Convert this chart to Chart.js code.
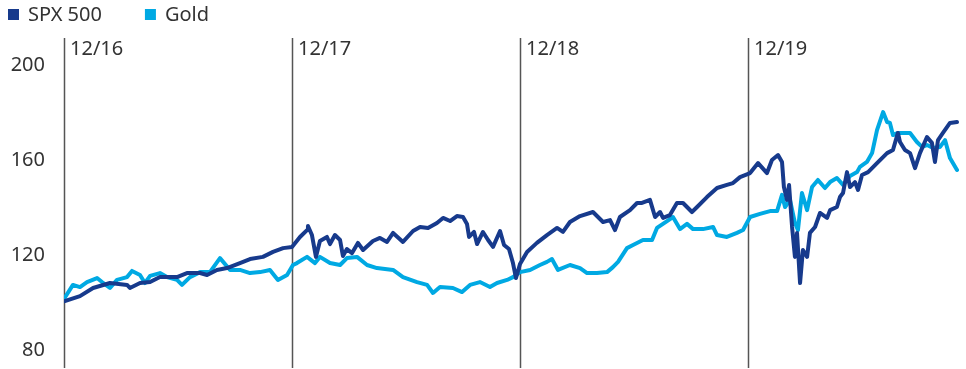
<!DOCTYPE html>
<html>
<head>
<meta charset="utf-8">
<script src="https://cdn.jsdelivr.net/npm/chart.js@4/dist/chart.umd.min.js"></script>
<style>
  html, body { margin: 0; padding: 0; background: #ffffff; }
  #wrap { width: 966px; height: 369px; position: relative; }
  canvas { display: block; }
</style>
</head>
<body>
<div id="wrap"><canvas id="c" width="966" height="369" style="width:966px;height:369px"></canvas></div>
<script>
// Months elapsed since 12/16 (x position) and index values (base 100)
const seriesNames = ['SPX 500', 'Gold'];
const spxMonths = [0,0.84,1.53,2.42,3.32,3.47,4.0,4.53,5.05,5.95,6.47,7.16,7.53,8.05,8.58,9.26,9.79,10.47,11.0,11.53,12.0,12.42,12.79,12.84,13.05,13.26,13.47,13.84,14.0,14.26,14.53,14.68,14.89,15.16,15.47,15.74,16.26,16.63,17.0,17.32,17.84,18.37,18.74,19.16,19.63,19.95,20.32,20.68,21.0,21.21,21.32,21.58,21.74,22.05,22.32,22.58,22.95,23.16,23.42,23.63,23.79,24.0,24.37,24.89,25.42,25.95,26.26,26.63,27.16,27.84,28.37,28.74,29.0,29.26,29.79,30.16,30.42,30.84,31.11,31.37,31.53,31.89,32.26,32.58,33.05,33.32,33.84,34.37,34.89,35.21,35.58,36.11,36.53,37.0,37.26,37.58,37.79,37.89,38.05,38.16,38.32,38.47,38.58,38.74,38.89,39.11,39.26,39.53,39.79,40.16,40.32,40.68,40.84,41.0,41.21,41.37,41.63,41.79,42.0,42.32,42.79,43.32,43.63,43.89,44.0,44.26,44.53,44.79,45.05,45.42,45.68,45.84,46.0,46.26,46.63,47.0];
const spxValues = [100.5,102.7,106.1,108.2,107.4,106.1,108.2,108.6,110.7,110.7,112.4,112.4,111.6,113.7,114.5,116.6,118.3,119.2,121.3,122.9,123.4,127.6,130.5,132.2,128.4,119.2,125.9,127.6,124.6,128.4,126.3,119.6,122.5,120.8,125.1,122.1,125.9,127.2,125.5,129.3,125.5,130.1,131.8,131.4,133.5,135.6,134.3,136.4,136.0,133.1,127.6,129.7,124.6,129.7,126.3,123.4,130.1,124.2,122.5,116.6,110.3,116.2,121.3,125.1,128.4,131.4,129.7,133.9,136.4,138.1,133.9,134.7,130.5,136.0,138.9,141.9,141.9,143.2,136.0,138.1,135.6,136.8,141.9,141.9,138.1,140.2,144.4,148.2,149.5,150.3,152.8,154.5,158.7,154.5,160.0,162.1,159.2,148.6,143.2,149.5,131.8,119.2,129.3,108.2,122.1,119.2,129.3,131.8,137.7,135.6,138.9,140.2,144.4,146.1,154.9,148.6,150.7,147.4,153.7,154.9,158.7,162.9,164.2,171.4,167.6,164.2,162.9,156.6,162.9,169.7,167.2,159.2,168.4,171.4,175.6,176.0];
const goldMonths = [0,0.47,0.84,1.21,1.74,2.0,2.42,2.79,3.32,3.58,4.0,4.26,4.53,5.05,5.42,5.95,6.21,6.63,7.16,7.68,8.21,8.74,9.26,9.79,10.32,10.84,11.26,11.74,12.05,12.26,12.79,13.21,13.47,14.0,14.53,14.89,15.42,15.95,16.47,17.32,17.84,18.58,19.11,19.42,19.79,20.47,20.95,21.37,21.89,22.42,22.79,23.32,23.63,24.0,24.53,25.05,25.42,25.68,26.0,26.63,27.16,27.53,28.05,28.58,28.89,29.16,29.63,29.95,30.47,30.95,31.21,31.74,32.05,32.42,32.79,33.11,33.63,34.16,34.37,34.89,35.42,35.74,36.11,36.63,37.16,37.53,37.79,37.95,38.21,38.47,38.63,38.84,39.11,39.37,39.68,40.05,40.32,40.68,41.0,41.37,41.74,41.89,42.26,42.53,42.79,43.11,43.32,43.47,43.63,43.89,44.16,44.53,44.89,45.16,45.42,45.74,46.11,46.37,46.63,47.0];
const goldValues = [101.5,107.4,106.5,108.6,110.3,108.6,106.1,109.5,110.7,113.3,111.6,108.2,111.2,112.4,110.7,109.5,107.4,110.7,112.8,112.8,118.7,113.7,113.7,112.4,112.8,113.7,109.5,111.6,115.8,116.6,119.2,116.6,119.2,116.6,115.8,118.7,119.2,115.8,114.5,113.7,110.7,108.6,107.4,104.0,106.5,106.1,104.4,107.4,108.6,106.5,108.2,109.5,110.7,112.8,113.7,115.8,117.1,118.3,113.7,115.8,114.5,112.4,112.4,112.8,114.9,117.1,122.9,124.2,126.3,126.3,131.4,134.3,136.0,130.9,133.1,130.9,130.9,131.8,128.4,127.6,129.3,130.5,136.0,137.3,138.5,138.5,145.3,140.2,143.2,133.5,130.5,146.1,138.9,148.6,151.6,148.2,150.7,152.4,149.5,153.3,154.9,157.1,159.2,162.9,172.6,180.2,176.0,175.6,170.5,171.4,171.4,171.4,167.6,165.5,166.3,165.1,165.5,168.4,160.8,155.8];
const xTickMonths = [0, 12, 24, 36];
const xTickLabels = ['12/16', '12/17', '12/18', '12/19'];
const yTickValues = [80, 120, 160, 200];

const colors = ['#173a8c', '#00a9e3'];
const FONT = 'Noto Sans, DejaVu Sans, sans-serif';

const overlayPlugin = {
  id: 'overlay',
  beforeDatasetsDraw(chart) {
    const ctx = chart.ctx;
    const xs = chart.scales.x;
    const area = chart.chartArea;
    ctx.save();
    ctx.strokeStyle = '#555555';
    ctx.lineWidth = 1.5;
    xTickMonths.forEach((m) => {
      const px = Math.round(xs.getPixelForValue(m)) + 0.5;
      ctx.beginPath();
      ctx.moveTo(px, area.top);
      ctx.lineTo(px, area.bottom);
      ctx.stroke();
    });
    ctx.restore();
  },
  afterDraw(chart) {
    const ctx = chart.ctx;
    const xs = chart.scales.x;
    const area = chart.chartArea;
    ctx.save();
    ctx.font = '20px ' + FONT;
    ctx.fillStyle = '#333333';
    ctx.textAlign = 'left';
    ctx.textBaseline = 'top';
    xTickMonths.forEach((m, i) => {
      ctx.fillText(xTickLabels[i], xs.getPixelForValue(m) + 6, area.top + 1);
    });
    // legend
    let x = 8;
    chart.data.datasets.forEach((ds) => {
      ctx.fillStyle = ds.borderColor;
      ctx.fillRect(x, 9, 11, 11);
      ctx.fillStyle = '#333333';
      ctx.textBaseline = 'middle';
      ctx.fillText(ds.label, x + 20, 15);
      x += 20 + ctx.measureText(ds.label).width + 43;
    });
    ctx.restore();
  }
};

new Chart(document.getElementById('c'), {
  type: 'line',
  data: {
    datasets: [
      { label: seriesNames[0], data: spxMonths.map((m, i) => ({ x: m, y: spxValues[i] })), borderColor: colors[0], backgroundColor: colors[0] },
      { label: seriesNames[1], data: goldMonths.map((m, i) => ({ x: m, y: goldValues[i] })), borderColor: colors[1], backgroundColor: colors[1] }
    ]
  },
  options: {
    responsive: false,
    maintainAspectRatio: false,
    animation: false,
    devicePixelRatio: 1,
    layout: { padding: { top: 38, right: 6, bottom: 1, left: 0 } },
    elements: {
      point: { radius: 0 },
      line: { borderWidth: 4, tension: 0, borderJoinStyle: 'round', borderCapStyle: 'round' }
    },
    plugins: { legend: { display: false }, tooltip: { enabled: false } },
    scales: {
      x: {
        type: 'linear',
        display: false,
        min: 0,
        max: 47.158
      },
      y: {
        min: 72.42,
        max: 211.37,
        afterBuildTicks: (s) => { s.ticks = yTickValues.map(v => ({ value: v })); },
        afterFit: (s) => { s.width = 64; s.paddingTop = 0; s.paddingBottom = 0; },
        ticks: { padding: 19, color: '#333333', font: { family: FONT, size: 20 } },
        grid: { display: false, drawTicks: false },
        border: { display: false }
      }
    }
  },
  plugins: [overlayPlugin]
});
</script>
</body>
</html>
